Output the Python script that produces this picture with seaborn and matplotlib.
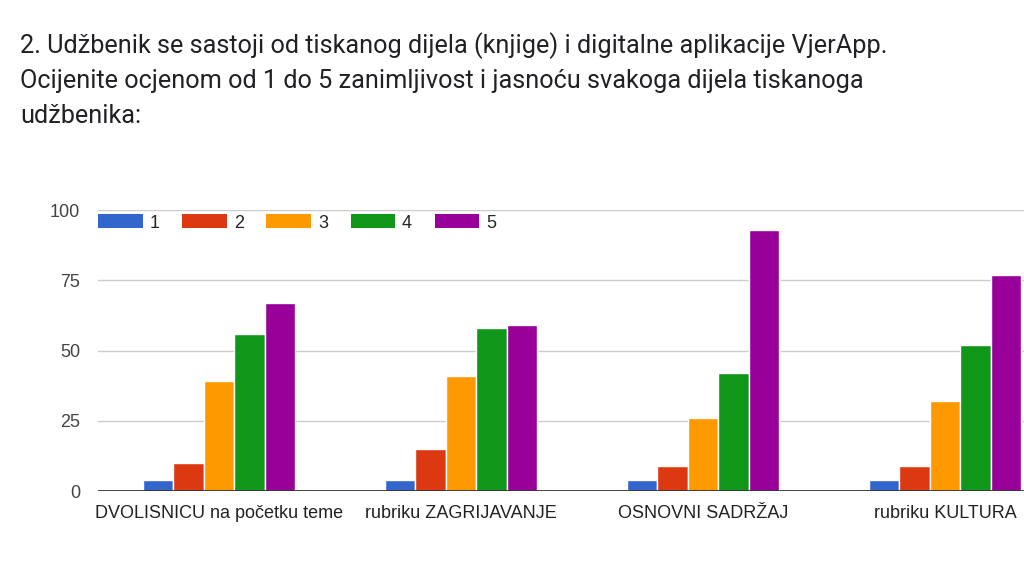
import matplotlib
matplotlib.use("Agg")
import matplotlib.pyplot as plt
import seaborn as sns
import pandas as pd
from matplotlib.patches import Patch

categories = ["DVOLISNICU na početku teme", "rubriku ZAGRIJAVANJE", "OSNOVNI SADRŽAJ", "rubriku KULTURA"]
ratings = ["1", "2", "3", "4", "5"]
values_1 = [4, 4, 4, 4]
values_2 = [10, 15, 9, 9]
values_3 = [39, 41, 26, 32]
values_4 = [56, 58, 42, 52]
values_5 = [67, 59, 93, 77]
yticks = [0, 25, 50, 75, 100]
colors = ["#3366cc", "#dc3912", "#ff9900", "#109618", "#990099"]
title = ("2. Udžbenik se sastoji od tiskanog dijela (knjige) i digitalne aplikacije VjerApp.\n"
         "Ocijenite ocjenom od 1 do 5 zanimljivost i jasnoću svakoga dijela tiskanoga\n"
         "udžbenika:")

series = [values_1, values_2, values_3, values_4, values_5]
rows = []
for r, vals in zip(ratings, series):
    for c, v in zip(categories, vals):
        rows.append({"kategorija": c, "ocjena": r, "broj": v})
df = pd.DataFrame(rows)

sns.set_theme(style="white")
plt.rcParams['font.family'] = ['Liberation Sans', 'DejaVu Sans']

W, H = 1024, 561
fig = plt.figure(figsize=(W / 100, H / 100), dpi=100)
left, right, top, bottom = 98, 1066, 210, 491
ax = fig.add_axes([left / W, 1 - bottom / H, (right - left) / W, (bottom - top) / H])

sns.barplot(data=df, x="kategorija", y="broj", hue="ocjena", order=categories,
            hue_order=ratings, palette=colors, width=0.63, ax=ax,
            edgecolor="white", linewidth=1, legend=False, saturation=1)

ax.set_xlim(-0.5, len(categories) - 0.5)
ax.set_ylim(0, 100)
ax.set_yticks(yticks)
ax.set_yticklabels([str(t) for t in yticks])
ax.grid(axis="y", color="#cccccc", linewidth=1)
ax.set_axisbelow(True)
for s in ax.spines.values():
    s.set_visible(False)
ax.axhline(0, color="#333333", linewidth=2, zorder=5)
ax.set_xlabel("")
ax.set_ylabel("")
ax.tick_params(axis="both", length=0, labelsize=13, colors="#222222")
ax.tick_params(axis="y", pad=13, colors="#444444")
ax.tick_params(axis="x", pad=10)

handles = [Patch(facecolor=c, edgecolor="none", label=r) for c, r in zip(colors, ratings)]
fig.legend(handles=handles, ncol=5, loc="center left",
           bbox_to_anchor=(93 / W, 1 - 223 / H), frameon=False,
           fontsize=13, handlelength=2.45, handleheight=0.8,
           handletextpad=0.4, columnspacing=1.25, borderaxespad=0, borderpad=0.3)

fig.text(20 / W, 1 - 32 / H, title, fontsize=18.2, family=["Roboto", "DejaVu Sans"],
         color="#202124", va="top", ha="left", linespacing=1.55)

fig.savefig("out.png", dpi=100)
